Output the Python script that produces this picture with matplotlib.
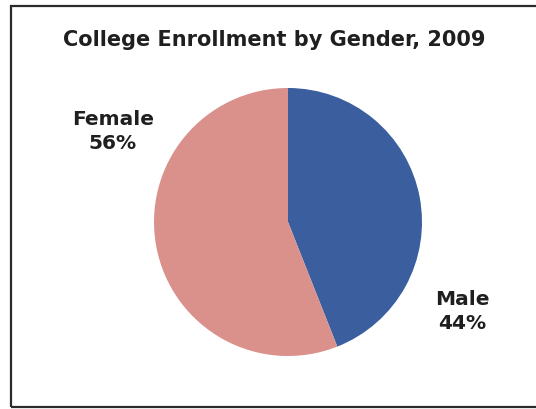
import matplotlib
matplotlib.use("Agg")
import matplotlib.pyplot as plt
from matplotlib.patches import Rectangle

title = "College Enrollment by Gender, 2009"
categories = ["Male", "Female"]
values = [44, 56]
colors = ["#3a5e9e", "#da918c"]

W, H = 536, 409
fig = plt.figure(figsize=(W / 100, H / 100), dpi=100)
fig.patch.set_facecolor("white")

# frame
fig.patches.append(Rectangle((11 / W, 2 / H), 1.0, 401 / H,
                             transform=fig.transFigure, fill=False,
                             edgecolor="#2a2a2a", linewidth=1.6))

cx, cy, r = 288, 222, 134
ax = fig.add_axes([(cx - r) / W, (H - cy - r) / H, 2 * r / W, 2 * r / H])
ax.pie(values, colors=colors, startangle=90, counterclock=False,
       wedgeprops=dict(linewidth=0))
ax.set_xlim(-1, 1)
ax.set_ylim(-1, 1)
ax.set_aspect("equal")
ax.axis("off")

label_pos = {"Male": (1.30, -0.67), "Female": (-1.306, 0.675)}
for cat, v in zip(categories, values):
    x, y = label_pos[cat]
    ax.text(x, y, f"{cat}\n{v}%", ha="center", va="center",
            fontsize=14.5, fontweight="bold", color="#1f1f1f",
            linespacing=1.35, clip_on=False)

fig.text(274 / W, 1 - 40 / H, title, ha="center", va="center",
         fontsize=15, fontweight="bold", color="#1f1f1f")

fig.savefig("out.png", dpi=100)
